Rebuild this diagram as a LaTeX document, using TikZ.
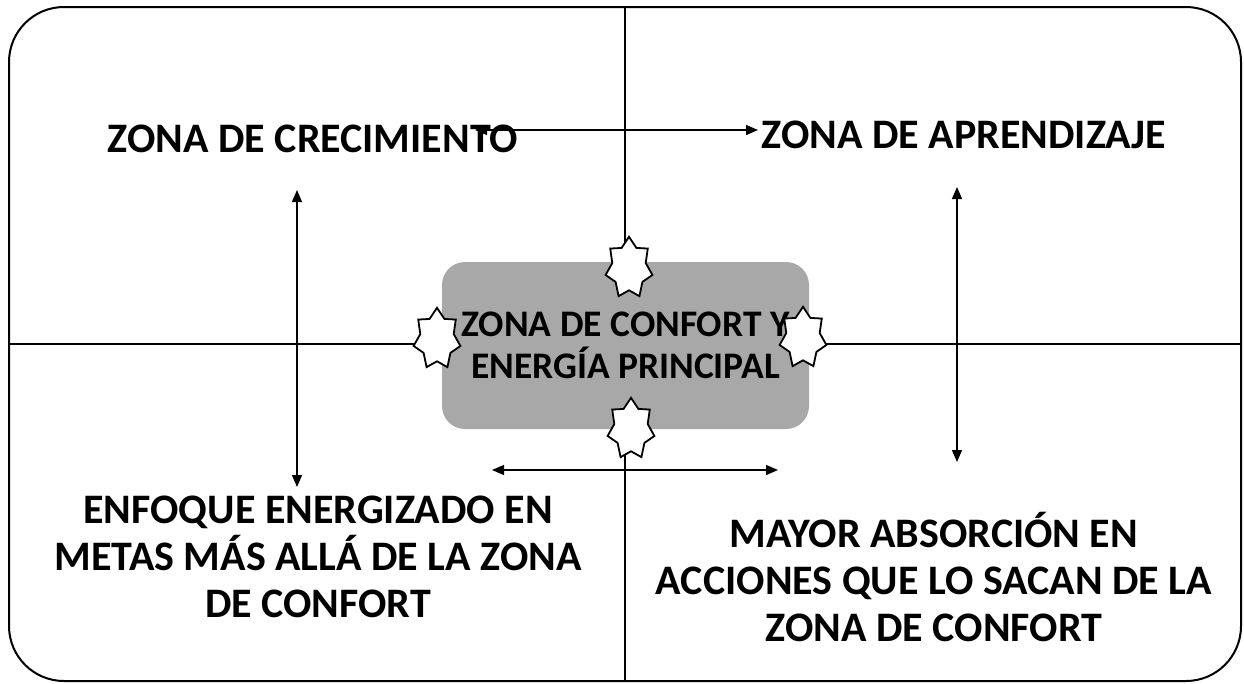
\documentclass[tikz,border=0pt]{standalone}
\usepackage{fontspec}
\setmainfont{Carlito}
\usetikzlibrary{shapes.geometric,arrows.meta}
\definecolor{gris}{HTML}{A8A8A8}
\tikzset{
  zona/.style={font=\bfseries\fontsize{42}{47}\selectfont,align=center,inner sep=0pt},
  estrella/.style={star,star points=7,star point ratio=1.4,minimum size=48pt,inner sep=0pt,
    draw,line width=1.8pt,fill=white,yscale=1.3,transform shape},
  flecha/.style={line width=1.3pt,{Triangle[length=12pt,width=10pt]}-{Triangle[length=12pt,width=10pt]}}
}
\def\eje{\draw[line width=2pt]}

\begin{document}
\begin{tikzpicture}[x=1pt,y=-1pt]
  \useasboundingbox (0,0) rectangle (1244,683);
  \node[draw,line width=2pt,rounded corners=55pt,minimum width=1232pt,minimum height=674pt] (marco) at (625,344) {};
  \eje (marco.north) -- (marco.south);
  \eje (marco.west) -- (marco.east);
  \node[zona,fill=gris,rounded corners=23pt,minimum width=367pt,minimum height=167pt,
    font=\bfseries\fontsize{37.5}{42}\selectfont] (confort) at (625.5,345.5) {ZONA DE CONFORT Y\\ENERGÍA PRINCIPAL};
  \node[estrella] (e1) at (629,268) {};
  \node[estrella] (e2) at (437,339) {};
  \node[estrella] (e3) at (803,338) {};
  \node[estrella] (e4) at (631,429) {};
  \node[zona,anchor=base] (crec) at (313,152) {ZONA DE CRECIMIENTO};
  \node[zona,anchor=base] (apren) at (964,148) {ZONA DE APRENDIZAJE};
  \node[zona] (enfoque) at (318,557) {ENFOQUE ENERGIZADO EN\\METAS MÁS ALLÁ DE LA ZONA\\DE CONFORT};
  \node[zona] (absor) at (934,577) {MAYOR ABSORCIÓN EN\\ACCIONES QUE LO SACAN DE LA\\ZONA DE CONFORT};
  % flechas
  \coordinate (h1) at (475,130); \coordinate (h2) at (758,130);
  \coordinate (v1) at (297,190); \coordinate (v2) at (297,487);
  \coordinate (d1) at (957,187); \coordinate (d2) at (957,462);
  \coordinate (b1) at (492,470); \coordinate (b2) at (778,470);
  \draw[flecha] (h1) -- (h2);
  \draw[flecha] (v1) -- (v2);
  \draw[flecha] (d1) -- (d2);
  \draw[flecha] (b1) -- (b2);
\end{tikzpicture}
\end{document}
